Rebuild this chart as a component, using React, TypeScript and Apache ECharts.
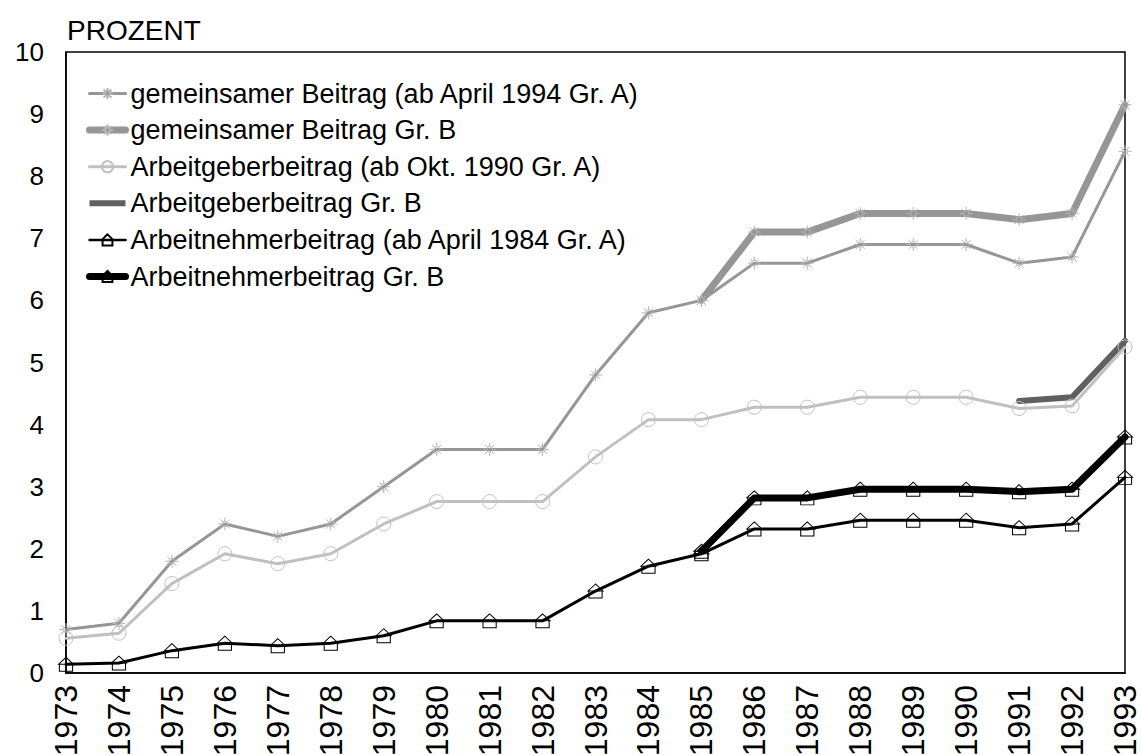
import React, { useEffect, useRef } from "react";
import * as echarts from "echarts";

const years = ["1973","1974","1975","1976","1977","1978","1979","1980","1981","1982","1983","1984","1985","1986","1987","1988","1989","1990","1991","1992","1993"];
const yTicks = [0, 10, 1];
const gemA = [0.7,0.8,1.8,2.4,2.2,2.4,3.0,3.6,3.6,3.6,4.8,5.8,6.0,6.6,6.6,6.9,6.9,6.9,6.6,6.7,8.4];
const gemB = [null,null,null,null,null,null,null,null,null,null,null,null,6.0,7.1,7.1,7.4,7.4,7.4,7.3,7.4,9.15];
const agA = [0.56,0.64,1.44,1.92,1.76,1.92,2.4,2.76,2.76,2.76,3.48,4.08,4.08,4.28,4.28,4.44,4.44,4.44,4.26,4.3,5.25];
const agB = [null,null,null,null,null,null,null,null,null,null,null,null,null,null,null,null,null,null,4.38,4.44,5.35];
const anA = [0.14,0.16,0.36,0.48,0.44,0.48,0.6,0.84,0.84,0.84,1.32,1.72,1.92,2.32,2.32,2.46,2.46,2.46,2.34,2.4,3.15];
const anB = [null,null,null,null,null,null,null,null,null,null,null,null,1.96,2.82,2.82,2.96,2.96,2.96,2.92,2.96,3.8];
const names = [
  "gemeinsamer Beitrag (ab April 1994 Gr. A)",
  "gemeinsamer Beitrag Gr. B",
  "Arbeitgeberbeitrag (ab Okt. 1990 Gr. A)",
  "Arbeitgeberbeitrag Gr. B",
  "Arbeitnehmerbeitrag (ab April 1984 Gr. A)",
  "Arbeitnehmerbeitrag Gr. B",
];

const FONT = "'Liberation Sans', Arial, sans-serif";
const SUN = "path://M5,0 L5,2.6 M5,7.4 L5,10 M0,5 L2.6,5 M7.4,5 L10,5 M1.5,1.5 L3.2,3.2 M6.8,6.8 L8.5,8.5 M1.5,8.5 L3.2,6.8 M6.8,3.2 L8.5,1.5 M2.8,5 A2.2,2.2 0 1,0 7.2,5 A2.2,2.2 0 1,0 2.8,5 Z";
const HOUSE = "path://M5,0 L0,5 L10,5 Z M0.6,5 L9.4,5 L9.4,10 L0.6,10 Z";
const BAR = "path://M0,0 L36,0 L36,6 L0,6 Z";

export default function App() {
  const ref = useRef<HTMLDivElement>(null);
  useEffect(() => {
    if (!ref.current) return;
    const chart = echarts.init(ref.current, null, { renderer: "svg" });
    const mk = (name: string, data: any[], color: string, width: number, symbol: string, symbolSize: any, symColor: string) => ({
      name,
      type: "line",
      data,
      connectNulls: false,
      symbol,
      symbolSize,
      showSymbol: symbol !== "none",
      lineStyle: { color, width, join: "round", cap: "round" },
      itemStyle: { color: "rgba(255,255,255,0)", borderColor: symColor, borderWidth: 1 },
      emphasis: { disabled: true },
    });
    chart.setOption({
      animation: false,
      textStyle: { fontFamily: FONT },
      grid: { left: 66, right: 17, top: 52, bottom: 82, show: true, borderColor: "#000", borderWidth: 1.5, backgroundColor: "transparent", outerBoundsMode: "none", containLabel: false },
      graphic: [
        { type: "text", left: 67, top: 16, style: { text: "PROZENT", font: `28px ${FONT}`, fill: "#000" } },
      ],
      legend: {
        orient: "vertical",
        left: 81,
        top: 75,
        itemWidth: 36,
        itemHeight: 14,
        itemGap: 9.6,
        textStyle: { fontSize: 27, lineHeight: 24, color: "#000", fontFamily: FONT },
        data: [
          { name: names[0], lineStyle: { width: 3 } },
          { name: names[1], lineStyle: { width: 7 } },
          { name: names[2], lineStyle: { width: 3 } },
          { name: names[3], icon: BAR, itemStyle: { color: "#606060", borderWidth: 0 } },
          { name: names[4], lineStyle: { width: 2.5 } },
          { name: names[5], lineStyle: { width: 7 } },
        ],
      },
      xAxis: {
        type: "category",
        data: years,
        boundaryGap: false,
        axisLine: { lineStyle: { color: "#000", width: 1.5 } },
        axisTick: { show: false },
        axisLabel: { rotate: 90, interval: 0, margin: 12, fontSize: 32, color: "#000", fontFamily: FONT },
        splitLine: { show: false },
      },
      yAxis: {
        type: "value",
        min: yTicks[0],
        max: yTicks[1],
        interval: yTicks[2],
        axisLine: { show: true, lineStyle: { color: "#000", width: 1.5 } },
        axisTick: { show: false },
        axisLabel: { fontSize: 26, color: "#000", margin: 22, fontFamily: FONT },
        splitLine: { show: false },
      },
      series: [
        mk(names[0], gemA, "#969696", 3, SUN, 13, "#b4b4b4"),
        mk(names[1], gemB, "#969696", 7, SUN, 13, "#b4b4b4"),
        mk(names[2], agA, "#c0c0c0", 3, "circle", 14, "#c0c0c0"),
        mk(names[3], agB, "#606060", 6, "none", 1, "#606060"),
        mk(names[4], anA, "#000000", 3, HOUSE, [15, 14], "#000000"),
        mk(names[5], anB, "#000000", 7, HOUSE, [15, 14], "#000000"),
      ],
    });
    return () => chart.dispose();
  }, []);
  return <div ref={ref} style={{ position: "absolute", left: 0, top: 0, width: 1142, height: 755 }} />;
}
